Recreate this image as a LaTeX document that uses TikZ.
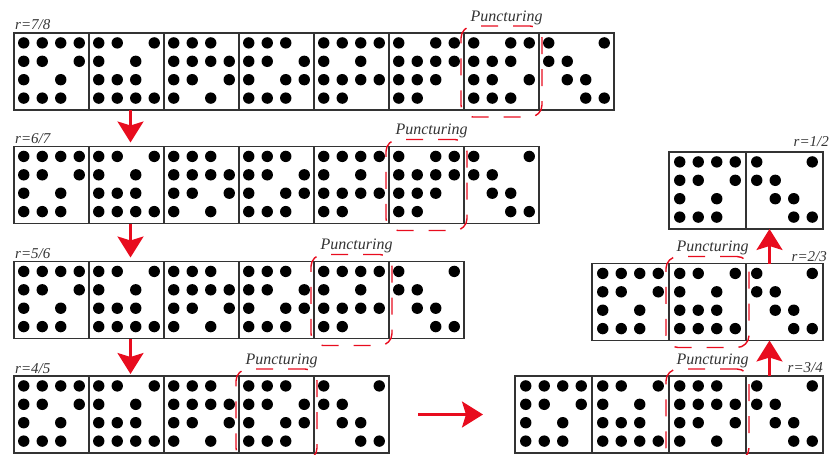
\documentclass[tikz,border=0pt]{standalone}
\usepackage{fontspec}
\setmainfont{Liberation Serif}
\usetikzlibrary{arrows.meta, fit, positioning}

\definecolor{arrowred}{RGB}{232,12,30}

% the 4x4 dot blocks, rows from the top
\def\patA{{1,1,1,1},{1,1,0,1},{1,0,1,0},{1,1,1,0}}
\def\patB{{1,1,0,1},{1,0,1,0},{1,1,1,0},{1,1,1,1}}
\def\patC{{1,1,1,0},{1,1,1,1},{1,1,0,1},{1,0,1,0}}
\def\patD{{1,1,1,0},{1,1,0,1},{1,0,1,1},{1,1,1,0}}
\def\patE{{1,1,1,1},{1,0,1,0},{1,1,1,1},{1,1,0,0}}
\def\patF{{1,0,1,1},{1,1,1,1},{1,1,1,0},{1,1,0,0}}
\def\patG{{1,0,1,1},{1,1,1,0},{1,1,0,1},{1,1,1,0}}
\def\patZ{{1,0,0,1},{1,1,0,0},{0,1,1,0},{0,0,1,1}}

\newcommand{\dotgrid}[2]{%
  \foreach \rw [count=\i] in #2 {
    \foreach \dt [count=\j] in \rw {
      \ifnum\dt=1
        \fill ([shift={({(\j-2.5)*18.5},{(\i-2.5)*18.4-1})}]#1.center) circle (5.7pt);
      \fi
    }
  }}

\newcommand{\blk}[3]{%
  \node[block, #2] (#1) {};
  \dotgrid{#1}{#3}}

\begin{document}
\begin{tikzpicture}[
            x=1pt, y=-1pt,
            node distance = 0pt,
            block/.style={draw=black!80, line width=1.2pt, outer sep=0pt,
                inner sep=0pt, minimum width=75pt, minimum height=77pt},
            wide/.style={minimum width=77pt},
            puncture/.style={draw=arrowred, line width=1.4pt, rounded corners=12pt,
                dash pattern=on 17pt off 15pt, inner xsep=3pt, inner ysep=7pt},
            punclabel/.style={anchor=base, inner sep=0pt, text=black!80,
                font=\fontsize{16}{18}\selectfont\itshape},
            redarrow/.style={draw=arrowred, line width=2.6pt,
                -{Stealth[length=21pt, width=26pt, inset=4pt]}}
        ]

        \tikzstyle{ratelabel}=[
            inner sep=0pt,
            text=black!80,
            font=\fontsize{15}{18}\selectfont\itshape
        ]

        \useasboundingbox (0,0) rectangle (831,455);

        % r = 7/8
        \blk{r78b1}{at={(51.5,71.5)}}{\patA}
        \blk{r78b2}{right=of r78b1}{\patB}
        \blk{r78b3}{right=of r78b2}{\patC}
        \blk{r78b4}{right=of r78b3}{\patD}
        \blk{r78b5}{right=of r78b4}{\patE}
        \blk{r78b6}{right=of r78b5}{\patF}
        \blk{r78b7}{right=of r78b6}{\patG}
        \blk{r78b8}{right=of r78b7}{\patZ}

        % r = 6/7
        \blk{r67b1}{at={(51.5,185)}}{\patA}
        \blk{r67b2}{right=of r67b1}{\patB}
        \blk{r67b3}{right=of r67b2}{\patC}
        \blk{r67b4}{right=of r67b3}{\patD}
        \blk{r67b5}{right=of r67b4}{\patE}
        \blk{r67b6}{right=of r67b5}{\patF}
        \blk{r67b7}{right=of r67b6}{\patZ}

        % r = 5/6
        \blk{r56b1}{at={(51.5,300)}}{\patA}
        \blk{r56b2}{right=of r56b1}{\patB}
        \blk{r56b3}{right=of r56b2}{\patC}
        \blk{r56b4}{right=of r56b3}{\patD}
        \blk{r56b5}{right=of r56b4}{\patE}
        \blk{r56b6}{right=of r56b5}{\patZ}

        % r = 4/5
        \blk{r45b1}{at={(51.5,414.5)}}{\patA}
        \blk{r45b2}{right=of r45b1}{\patB}
        \blk{r45b3}{right=of r45b2}{\patC}
        \blk{r45b4}{right=of r45b3}{\patD}
        \blk{r45b5}{right=of r45b4}{\patZ}

        % r = 3/4, 2/3 and 1/2
        \blk{r34b1}{wide, at={(553.5,414.5)}}{\patA}
        \blk{r34b2}{wide, right=of r34b1}{\patB}
        \blk{r34b3}{wide, right=of r34b2}{\patC}
        \blk{r34b4}{wide, right=of r34b3}{\patZ}

        \blk{r23b1}{wide, at={(630.5,302)}}{\patA}
        \blk{r23b2}{wide, right=of r23b1}{\patB}
        \blk{r23b3}{wide, right=of r23b2}{\patZ}

        \blk{r12b1}{wide, at={(707.5,190.5)}}{\patA}
        \blk{r12b2}{wide, right=of r12b1}{\patZ}

        % rates
        \node[ratelabel, anchor=base west] (t78) at ([xshift=1pt, yshift=3pt]r78b1.north west) {r=7/8};
        \node[ratelabel, anchor=base west] (t67) at ([xshift=1pt, yshift=3pt]r67b1.north west) {r=6/7};
        \node[ratelabel, anchor=base west] (t56) at ([xshift=1pt, yshift=3pt]r56b1.north west) {r=5/6};
        \node[ratelabel, anchor=base west] (t45) at ([xshift=1pt, yshift=3pt]r45b1.north west) {r=4/5};
        \node[ratelabel, anchor=base east] (t34) at ([yshift=4pt]r34b4.north east) {r=3/4};
        \node[ratelabel, anchor=base east] (t23) at ([xshift=4pt, yshift=2pt]r23b3.north east) {r=2/3};
        \node[ratelabel, anchor=base east] (t12) at ([xshift=6pt, yshift=6pt]r12b2.north east) {r=1/2};

        % punctured blocks
        \node[puncture, fit=(r78b7)] (p78) {};
        \node[puncture, fit=(r67b6)] (p67) {};
        \node[puncture, fit=(r56b5)] (p56) {};
        \node[puncture, fit=(r45b4)] (p45) {};
        \node[puncture, fit=(r34b3)] (p34) {};
        \node[puncture, fit=(r23b2)] (p23) {};

        \node[punclabel] (l78) at ([xshift=5pt, yshift=4pt]p78.north) {Puncturing};
        \node[punclabel] (l67) at ([xshift=5pt, yshift=4pt]p67.north) {Puncturing};
        \node[punclabel] (l56) at ([xshift=5pt, yshift=4pt]p56.north) {Puncturing};
        \node[punclabel] (l45) at ([xshift=5pt, yshift=4pt]p45.north) {Puncturing};
        \node[punclabel] (l34) at ([xshift=5pt, yshift=4pt]p34.north) {Puncturing};
        \node[punclabel] (l23) at ([xshift=5pt, yshift=4pt]p23.north) {Puncturing};

        \draw[redarrow] ([xshift=4pt]r78b2.south) -- ([xshift=4pt, yshift=4pt]r67b2.north);
        \draw[redarrow] ([xshift=4pt]r67b2.south) -- ([xshift=4pt, yshift=4pt]r56b2.north);
        \draw[redarrow] ([xshift=4pt]r56b2.south) -- ([xshift=4pt, yshift=2pt]r45b2.north);
        \draw[redarrow] ([xshift=29pt]r45b5.east) -- ([xshift=-32pt]r34b1.west);
        \draw[redarrow] ([xshift=-15pt]r34b4.north) -- ([xshift=-15pt]r23b3.south);
        \draw[redarrow] ([xshift=-15pt]r23b3.north) -- ([xshift=-15pt]r12b2.south);

    \end{tikzpicture}
\end{document}
